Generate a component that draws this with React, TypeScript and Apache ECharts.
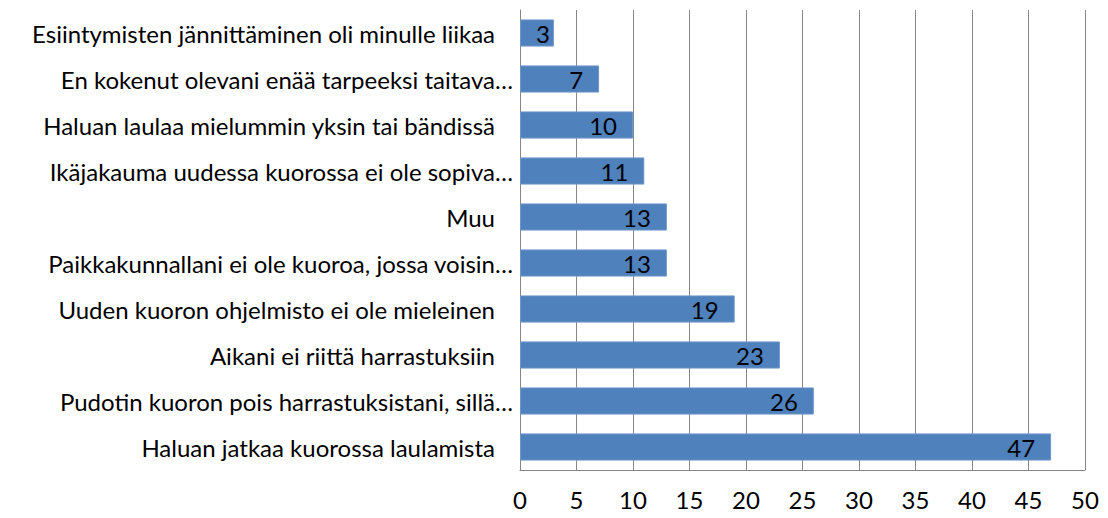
import React, { useEffect, useRef } from "react";
import * as echarts from "echarts";

const categories = [
  "Haluan jatkaa kuorossa laulamista",
  "Pudotin kuoron pois harrastuksistani, sillä…",
  "Aikani ei riittä harrastuksiin",
  "Uuden kuoron ohjelmisto ei ole mieleinen",
  "Paikkakunnallani ei ole kuoroa, jossa voisin…",
  "Muu",
  "Ikäjakauma uudessa kuorossa ei ole sopiva…",
  "Haluan laulaa mielummin yksin tai bändissä",
  "En kokenut olevani enää tarpeeksi taitava…",
  "Esiintymisten jännittäminen oli minulle liikaa",
];
const values = [47, 26, 23, 19, 13, 13, 11, 10, 7, 3];
const xTicks = [0, 5, 10, 15, 20, 25, 30, 35, 40, 45, 50];

const FONT = "Lato, 'Open Sans', sans-serif";
const FS = 24;

export default function App() {
  const ref = useRef<HTMLDivElement>(null);
  useEffect(() => {
    document.body.style.margin = "0";
    document.body.style.overflow = "hidden";
    if (!ref.current) return;
    const chart = echarts.init(ref.current, null, { renderer: "svg" });
    chart.setOption({
      animation: false,
      grid: { left: 520, right: 23, top: 10, bottom: 48, containLabel: false },
      xAxis: {
        type: "value",
        min: xTicks[0],
        max: xTicks[xTicks.length - 1],
        interval: 5,
        axisLine: { show: true, lineStyle: { color: "#868686", width: 1 } },
        axisTick: { show: false },
        splitLine: { show: true, lineStyle: { color: "#868686", width: 1 } },
        axisLabel: { color: "#000", fontSize: FS, fontFamily: FONT, margin: 17 },
      },
      yAxis: {
        type: "category",
        data: categories,
        axisLine: { show: true, lineStyle: { color: "#868686", width: 1 } },
        axisTick: { show: false },
        axisLabel: {
          color: "#000",
          fontSize: FS,
          fontFamily: FONT,
          margin: 7,
          formatter: (v: string) => (v.endsWith("…") ? `{a|${v}}` : `{b|${v}}`),
          rich: {
            a: { color: "#000", fontSize: FS, fontFamily: FONT },
            b: { color: "#000", fontSize: FS, fontFamily: FONT, padding: [0, 18, 0, 0] },
          },
        },
      },
      series: [
        {
          type: "bar",
          data: values.map((v) => (v < 5 ? { value: v, label: { distance: 4 } } : v)),
          barCategoryGap: "41%",
          itemStyle: { color: "#4F81BD", borderColor: "#6E97C9", borderWidth: 1 },
          label: {
            show: true,
            position: "insideRight",
            distance: 16,
            color: "#000",
            fontSize: FS,
            fontFamily: FONT,
          },
        },
      ],
    });
    return () => chart.dispose();
  }, []);
  return <div ref={ref} style={{ width: 1108, height: 518 }} />;
}
